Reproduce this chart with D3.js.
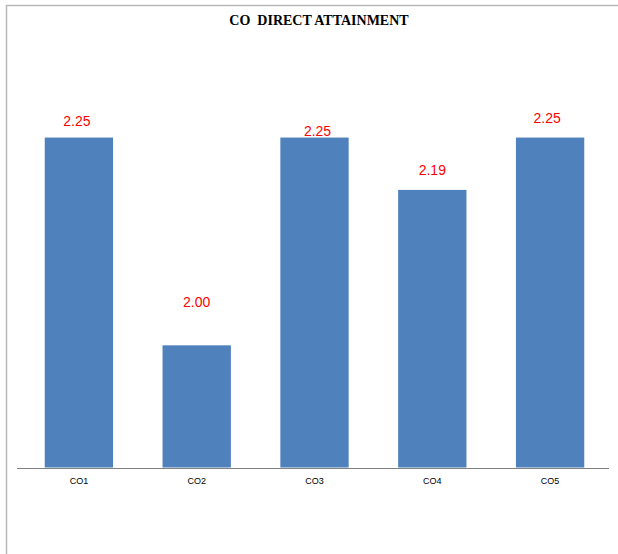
<!DOCTYPE html>
<html>
<head>
<meta charset="utf-8">
<script src="https://cdnjs.cloudflare.com/ajax/libs/d3/7.8.5/d3.min.js"></script>
<style>
    body { margin: 0; background: #fff; }
    svg { display: block; }
</style>
</head>
<body>
<div id="chart"></div>
<script>
/*
CO direct attainment bar chart
*/

// chart data
var categories = ['CO1', 'CO2', 'CO3', 'CO4', 'CO5'];
var values = [2.25, 2.00, 2.25, 2.187, 2.25];

// label nudges (pixels above bar top, horizontal shift) as placed in the original
var labelLift = [12, 38, 2, 15, 15];
var labelShift = [-2, 0, 3, 0, -3];

var width = 618,
    height = 554;

var margin = { top: 96, right: 9, bottom: 86, left: 20 };

var svg = d3.select('#chart').append('svg')
    .attr('width', width)
    .attr('height', height);

// outer frame of the chart (only top and left edges visible)
svg.append('rect')
    .attr('x', 6.5)
    .attr('y', 5.5)
    .attr('width', width + 20)
    .attr('height', height + 20)
    .style('fill', 'none')
    .style('stroke', '#b8b8b8')
    .style('stroke-width', 1.5);

// title
svg.append('text')
    .attr('x', 319)
    .attr('y', 25)
    .attr('text-anchor', 'middle')
    .style('font-family', '"Liberation Serif", "Times New Roman", serif')
    .style('font-weight', 'bold')
    .style('font-size', '14px')
    .style('white-space', 'pre')
    .text('CO  DIRECT ATTAINMENT');

var x = d3.scaleBand()
    .domain(categories)
    .range([margin.left, width - margin.right])
    .paddingInner(0.42)
    .paddingOuter(0.21);

var y = d3.scaleLinear()
    .domain([1.853, 2.3])
    .range([height - margin.bottom - 0.5, margin.top]);

// bars
svg.selectAll('.bar')
    .data(values)
    .enter().append('rect')
    .attr('class', 'bar')
    .attr('x', function(d, i) { return x(categories[i]); })
    .attr('y', function(d) { return y(d); })
    .attr('width', x.bandwidth())
    .attr('height', function(d) { return y(1.853) - y(d); })
    .style('fill', '#4f81bd');

// x axis
var xAxis = d3.axisBottom(x).tickSize(0).tickPadding(10);

var gx = svg.append('g')
    .attr('transform', 'translate(0,' + (height - margin.bottom) + ')')
    .call(xAxis);

gx.select('.domain')
    .attr('d', 'M17,0.5H' + (width - margin.right))
    .style('stroke', '#808080')
    .style('stroke-width', 1);

gx.selectAll('text')
    .style('font-family', '"Liberation Sans", Arial, sans-serif')
    .style('font-size', '9px')
    .style('fill', '#000');

// value labels
svg.selectAll('.value')
    .data(values)
    .enter().append('text')
    .attr('class', 'value')
    .attr('x', function(d, i) { return x(categories[i]) + x.bandwidth() / 2 + labelShift[i]; })
    .attr('y', function(d, i) { return y(d) - labelLift[i]; })
    .attr('text-anchor', 'middle')
    .style('font-family', '"Liberation Sans", Arial, sans-serif')
    .style('font-size', '14px')
    .style('fill', '#ff0000')
    .text(function(d) { return d3.format('.2f')(d); });
</script>
</body>
</html>
